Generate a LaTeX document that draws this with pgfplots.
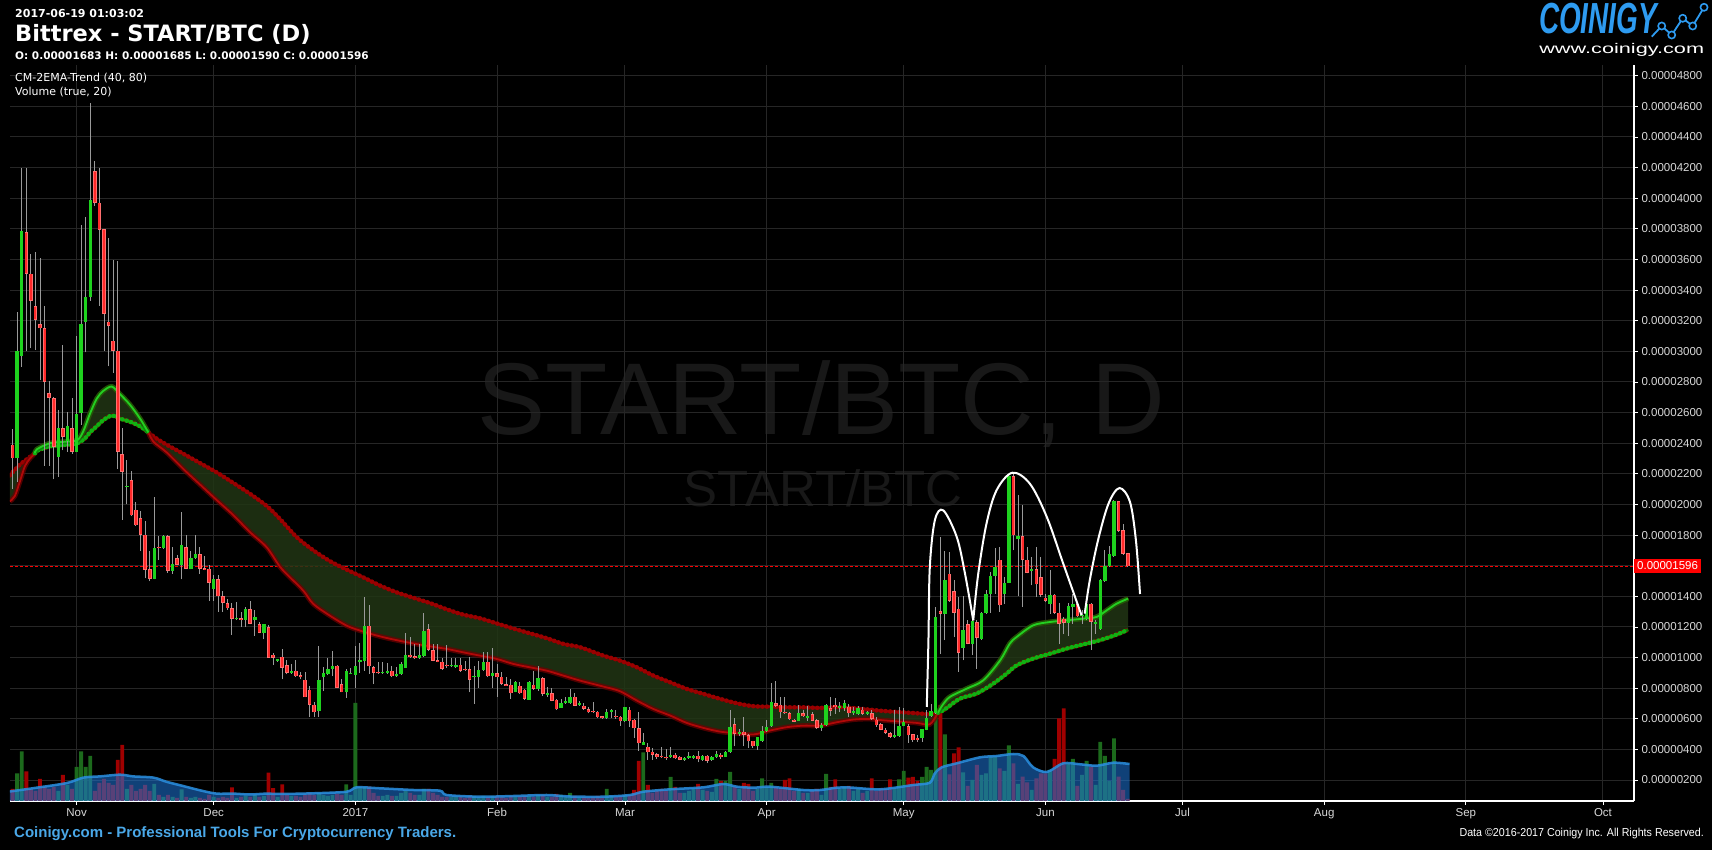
\documentclass[border=0pt]{standalone}
\usepackage{fontspec}
\usepackage{pgfplots}
\usepackage{pgfplotstable}
\pgfplotsset{compat=1.18}
\newfontfamily\dvs{DejaVu Sans}
\newfontfamily\lbs{Liberation Sans}
\newfontfamily\lbsn{Liberation Sans}[FakeStretch=0.93]
\definecolor{gridc}{HTML}{262626}
\definecolor{tickc}{HTML}{D8D8D8}
\definecolor{upc}{HTML}{1ED21E}
\definecolor{dnc}{HTML}{FF2A2A}
\definecolor{dne}{HTML}{FF7070}
\definecolor{wick}{HTML}{9A9A9A}
\definecolor{emafill}{HTML}{213614}
\definecolor{emaRo}{HTML}{6E0000}
\definecolor{emaRi}{HTML}{B00808}
\definecolor{emaRb}{HTML}{9A0000}
\definecolor{emaGo}{HTML}{087A08}
\definecolor{emaGi}{HTML}{22D022}
\definecolor{emaGb}{HTML}{12B012}
\definecolor{volblue}{HTML}{1E78DC}
\definecolor{volline}{HTML}{2A8FE0}
\definecolor{volred}{HTML}{A00000}
\definecolor{volgreen}{HTML}{1C6A1C}
\definecolor{coinblue}{HTML}{4AA8E8}
\definecolor{logoblue}{HTML}{2E9BF0}
\definecolor{wm}{HTML}{181818}

\pgfplotstableread{
d o h l c v
-13 23.0 32.57 21.46 30.04 27.6
-12 29.68 41.95 29.0 37.85 49.5
-4 23.11 26.16 21.8 24.96 10
-2 24.13 26.03 23.44 25.1 16
0 23.44 30.98 23.4 25.89 34
1 25.94 38.23 25.2 31.77 49.5
2 31.94 38.76 29.93 33.56 34
3 33.56 46.2 33.29 39.86 45
11 21.15 22.9 20.0 21.2 12
17 15.14 20.5 15.1 17.18 17
19 17.18 18.0 17.1 17.92 4
21 15.66 17.2 15.47 16.1 4
23 16.02 19.5 15.1 17.34 11.6
25 15.8 16.93 15.75 16.49 3
26 16.49 18.03 16.43 16.74 4
30 14.48 15.42 13.7 15.11 4
35 12.5 13.6 12.45 12.55 3
37 12.45 13.33 11.98 13.16 5
39 12.45 13.13 11.43 12.64 6
41 11.6 12.17 11.18 12.17 5
44 9.78 9.9 9.7 9.89 4
47 8.97 9.58 8.93 9.14 5
53 6.53 10.73 6.1 8.56 8
54 8.71 9.36 7.8 9.0 6
55 8.93 9.95 8.84 9.28 5
56 9.28 10.4 8.77 9.47 6
59 7.73 9.25 7.36 9.14 16.7
60 8.93 9.3 8.9 8.97 6
61 8.88 10.73 7.99 9.47 98
62 9.69 10.95 9.0 9.86 14
63 9.8 13.98 9.14 12.08 14
67 8.99 9.69 8.93 9.04 5
68 8.97 9.62 8.93 9.14 6
70 8.77 9.4 8.75 8.93 5
71 8.93 9.69 8.88 9.58 8
72 9.32 11.6 9.32 10.19 10
75 9.95 10.89 9.9 10.19 6
76 10.12 12.93 10.02 11.76 12
82 9.43 9.95 9.36 9.54 4
83 9.36 9.95 9.32 9.54 4
87 8.71 9.43 6.97 8.77 5
88 8.71 9.8 8.01 9.19 4
89 9.19 10.38 9.14 9.73 5
91 8.82 10.6 8.01 8.99 5
96 7.77 8.49 7.73 8.43 4
99 7.25 8.49 7.23 8.38 5
101 7.95 9.43 7.84 8.64 6
103 7.53 8.06 7.45 7.66 4
106 6.71 7.3 6.69 7.06 6
107 7.01 7.45 6.97 7.14 4
108 7.03 7.95 6.97 7.45 8
110 6.9 7.19 6.86 7.01 3
116 6.05 6.64 5.99 6.47 12
117 6.42 6.64 6.05 6.6 5
120 5.84 6.79 5.77 6.79 6
124 4.31 5.05 4.31 4.47 48.7
130 3.49 4.18 3.44 3.66 24
133 3.31 3.49 3.27 3.44 8
134 3.42 3.86 3.38 3.55 10
135 3.44 3.66 3.38 3.6 12
137 3.33 3.64 3.27 3.6 11
139 3.33 3.58 3.27 3.53 9
140 3.49 3.88 3.42 3.7 22
142 3.49 3.92 3.49 3.86 20
143 3.81 6.6 3.75 5.49 29
145 5.01 5.34 4.9 5.16 12
149 4.2 4.84 3.97 4.84 12
150 4.53 5.51 4.47 5.23 22.7
151 5.18 5.92 5.12 5.49 14
152 5.51 8.32 5.49 7.12 18
158 5.88 6.92 5.84 6.38 12
160 6.08 6.86 5.88 6.12 8
163 5.4 5.71 5.23 5.62 6
164 5.62 6.97 5.55 6.92 27
167 6.73 7.08 6.42 6.75 12
168 6.69 7.25 6.53 7.03 14
170 6.36 6.75 6.27 6.49 10
171 6.32 6.86 6.27 6.69 12
173 6.32 6.53 6.25 6.42 10
179 4.81 6.6 4.77 4.92 12
180 4.86 6.77 4.81 5.55 21.7
181 5.53 6.73 5.51 5.77 30
185 4.75 5.36 4.49 5.32 24
186 5.29 6.55 5.25 6.05 34
187 6.16 6.99 6.12 6.51 31
188 6.38 13.3 6.34 12.65 87
190 12.87 16.94 11.13 15.09 66.7
194 10.65 14.0 9.82 11.82 28.7
196 10.91 12.43 10.15 12.37 21
198 11.19 12.98 11.13 12.91 26
199 12.91 14.43 12.87 14.17 27.7
200 14.17 15.56 12.91 15.35 44.3
201 15.35 17.18 14.17 15.91 44.3
203 14.17 15.26 13.52 14.89 30
204 14.89 22.0 14.89 21.83 55.7
206 17.76 20.64 14.0 17.92 17
209 15.63 16.57 14.72 15.8 11
213 13.52 15.7 12.87 14.1 31
217 12.26 13.56 11.39 13.35 37.7
218 13.3 14.13 12.21 13.48 42
220 12.69 13.08 12.21 12.76 26
221 12.54 13.63 12.43 13.52 40
223 12.21 12.43 11.56 12.26 16
224 11.84 15.15 11.82 15.04 59
225 15.0 17.0 14.93 15.96 45
226 15.96 17.26 15.91 16.74 20
227 16.61 20.27 16.57 20.2 62.7
}\up

\pgfplotstableread{
d o h l c v
-14 23.9 24.9 21.0 23.0 12
-11 37.77 41.95 30.04 35.07 29.7
-10 35.07 36.34 30.2 33.31 12
-9 32.96 36.5 30.1 32.05 10
-8 31.77 36.1 28.1 31.5 22
-7 31.5 32.96 22.54 28.0 14
-6 27.26 28.03 22.54 26.96 12
-5 26.96 27.0 21.63 23.77 14
-3 24.96 30.43 23.53 24.4 26
-1 25.0 26.93 23.3 23.44 12
4 41.75 42.41 39.5 39.69 10
5 39.7 42.0 32.98 37.93 18
6 37.96 38.0 30.04 32.46 22
7 31.94 37.38 29.02 31.66 18
8 30.7 35.95 28.6 30.04 16
9 30.04 35.9 22.3 23.44 41
10 23.3 25.0 18.99 22.12 56
12 21.57 22.15 19.24 19.29 16
13 19.65 20.14 18.58 18.63 10
14 19.1 19.54 16.98 18.03 12
15 18.03 18.9 15.17 15.72 16
16 15.75 16.93 14.98 15.14 10
18 17.2 17.95 16.38 17.15 6
20 17.92 18.03 15.55 15.64 6
22 16.49 16.7 16.02 16.05 3
24 17.2 18.03 15.75 15.8 4
27 16.74 17.2 15.47 15.8 3
28 15.83 16.65 15.7 15.72 2
29 15.8 16.07 13.7 14.9 6
31 15.11 15.42 13.0 13.99 3
32 13.99 14.37 13.0 13.57 4
33 13.57 13.82 13.13 13.22 3
34 13.22 13.55 11.5 12.53 13.7
36 12.56 13.0 11.98 12.47 4
38 13.16 13.66 12.17 12.2 4
40 12.2 12.3 11.57 11.6 4
42 11.98 12.1 9.97 10.0 28.4
43 10.19 10.28 9.5 9.97 12.8
45 10.06 10.55 8.57 9.34 16.6
46 9.48 9.83 8.9 9.01 6
48 9.14 9.84 8.73 8.77 5
49 8.84 9.06 8.58 8.71 4
50 8.56 9.08 7.4 7.4 6
51 7.9 8.17 6.1 6.9 8
52 6.92 7.08 6.1 6.42 6
57 9.47 9.5 8.01 8.01 7
58 8.27 8.6 7.73 7.73 6
64 12.08 13.45 8.93 9.43 14.3
65 9.36 9.47 8.27 9.0 8
66 9.02 9.69 8.93 8.97 5
69 9.14 9.47 8.71 8.77 5
73 10.19 11.32 10.0 10.02 8
74 10.08 10.89 9.9 9.95 6
77 11.87 12.2 10.4 10.49 12
78 10.49 10.89 9.75 9.8 8
79 9.8 10.89 9.69 9.73 6
80 9.73 9.95 9.19 9.25 4
81 9.54 10.82 9.32 9.43 4
84 9.54 9.95 9.08 9.14 4
85 9.23 9.8 9.12 9.16 3
86 9.25 10.02 7.73 8.54 5
90 9.73 10.38 8.71 8.77 4
92 8.99 9.58 7.45 8.71 5
93 8.75 9.04 8.23 8.27 4
94 8.27 8.75 8.17 8.17 3
95 8.23 8.58 7.3 7.66 5
97 8.17 8.38 7.62 7.66 4
98 7.9 7.95 7.25 7.3 5
100 8.23 9.14 7.9 7.95 4
102 8.64 8.71 7.51 7.62 6
104 7.68 8.01 7.14 7.19 4
105 7.25 7.3 6.58 6.62 7
109 7.45 7.69 6.82 6.86 5
111 6.86 7.0 6.6 6.64 4
112 6.64 6.75 6.36 6.42 3
113 6.47 7.12 6.4 6.42 4
114 6.47 6.53 6.05 6.1 5
115 6.16 6.2 6.0 6.05 3
118 6.21 6.58 5.99 6.1 4
119 6.14 6.21 5.55 5.84 5
121 6.6 6.75 5.45 5.84 6
122 5.95 5.99 4.73 5.38 11
123 5.4 6.47 3.92 4.4 40
125 4.18 4.42 3.33 3.81 16
126 3.86 4.1 3.33 3.66 8
127 3.7 3.75 3.38 3.49 10
128 3.53 4.18 3.44 3.49 12
129 3.53 4.03 3.33 3.42 10
131 3.66 3.79 3.38 3.42 14
132 3.53 3.6 3.29 3.31 8
136 3.6 3.92 3.16 3.36 17
138 3.6 3.64 3.1 3.27 10
141 3.66 3.75 3.38 3.49 20
144 5.66 6.05 4.2 5.01 14
146 5.16 6.1 4.2 4.97 18
147 4.94 5.01 4.1 4.53 17
148 4.57 4.57 4.1 4.2 10
153 7.03 8.45 6.79 6.86 14
154 6.92 7.45 6.03 6.42 12
155 6.47 7.45 6.32 6.36 21
156 6.38 6.42 5.92 5.97 22.7
157 5.95 5.99 5.77 5.82 10
159 6.38 6.58 6.1 6.16 8
161 6.32 6.42 5.84 5.88 10
162 5.92 5.99 5.34 5.4 12
165 6.69 7.45 6.21 6.53 14
166 6.92 7.34 6.32 6.75 21.7
169 6.79 6.97 6.1 6.36 15
172 6.6 6.75 6.27 6.32 8
174 6.38 6.55 5.95 6.01 22.7
175 5.95 6.12 5.47 5.58 10
176 5.64 5.73 5.25 5.29 12.7
177 5.29 5.42 5.03 5.07 12
178 5.07 5.14 4.77 4.81 21.7
182 5.51 5.68 4.42 4.92 23.3
183 4.99 5.03 4.49 4.6 24
184 4.77 4.92 4.49 4.6 20
189 13.02 17.87 10.25 12.87 96
191 15.48 16.89 13.63 13.69 26.7
192 14.32 15.04 11.34 12.91 47.7
193 13.19 13.95 9.06 10.3 53.7
195 12.17 12.47 10.86 10.91 15
197 12.32 12.43 9.28 11.3 36
202 16.39 17.22 12.98 13.41 32.7
205 21.83 22.0 17.0 17.98 37.7
207 17.92 19.94 13.3 16.39 24.3
208 16.39 17.22 15.5 15.54 18.7
210 15.76 17.22 13.95 14.78 22.7
211 15.26 16.57 13.95 14.1 27.7
212 13.91 14.13 13.63 13.69 27.7
214 14.1 14.17 12.87 12.91 42
215 12.93 13.58 10.86 12.21 82.7
216 12.54 12.65 11.52 12.26 92.7
219 13.48 13.56 12.65 12.69 15
222 13.52 13.56 10.52 12.32 34.3
228 20.2 20.2 18.2 18.26 24.3
229 18.31 18.7 16.72 16.78 11
230 16.83 16.85 15.90 15.96 2
}\down

\pgfplotstableread{
d p
-14.6 20.2
-13.5 20.55
-12.4 21.5
-11.3 22.5
-10.2 23.0
-9.1 23.35
-8.7 23.6
-5.8 24.0
-2.2 24.1
0.2 24.2
1.5 24.8
2.9 25.9
4.4 26.9
5.8 27.4
7.7 27.7
9.5 27.2
11.7 26.5
13.9 25.6
15.7 24.7
16.8 24.1
19.7 23.4
23.4 22.3
27.0 21.3
30.6 20.3
34.3 19.3
37.9 18.2
41.6 17.2
44.5 15.93
46.7 15.24
49.6 14.37
51.8 13.5
55.4 12.74
59.1 12.08
62.0 11.76
64.9 11.5
67.8 11.28
72.2 11.0
77.3 10.73
81.0 10.56
84.6 10.34
88.3 10.12
91.9 9.91
95.6 9.58
99.2 9.36
102.9 9.14
106.5 8.82
110.2 8.49
115.3 8.1
118.9 7.8
122.6 7.19
126.2 6.64
129.9 6.21
133.5 5.73
137.2 5.4
140.8 5.16
144.5 5.05
148.1 4.97
151.7 5.23
155.4 5.45
159.0 5.55
162.7 5.55
166.3 5.77
170.0 5.95
173.6 5.99
176.5 5.9
183.8 5.73
186.7 5.64
188.5 6.4
189.5 6.9
191.1 7.43
194.8 7.97
198.4 8.51
202.1 9.82
204.2 10.91
205.7 11.34
209.3 12.1
213.0 12.32
216.6 12.43
220.3 12.54
223.2 12.65
225.4 13.08
227.6 13.52
230.1 13.85
}\fast

\pgfplotstableread{
d p
-14.6 21.9
-12.4 22.6
-10.2 23.1
-9.1 23.35
-8.7 23.5
-5.8 23.8
-2.2 23.9
0.2 24.0
1.8 24.3
2.9 24.7
4.4 25.1
5.8 25.5
7.7 25.8
9.5 25.6
11.7 25.4
13.9 25.1
15.7 24.7
17.5 24.3
19.7 23.9
23.4 23.3
27.0 22.7
30.6 22.1
34.3 21.4
37.9 20.7
41.6 19.9
44.5 19.05
48.2 17.85
51.8 17.0
55.4 16.3
59.1 15.74
62.7 15.24
66.4 14.7
70.0 14.26
73.7 13.9
77.3 13.56
81.0 13.15
84.6 12.8
88.3 12.56
91.9 12.23
95.6 11.89
99.2 11.58
102.9 11.26
106.5 10.89
110.2 10.67
115.3 10.12
118.9 9.8
122.6 9.36
126.2 8.82
129.9 8.38
133.5 7.95
137.2 7.62
140.8 7.3
144.5 7.01
148.1 6.82
151.7 6.79
155.4 6.75
159.0 6.75
162.7 6.71
166.3 6.75
170.0 6.7
176.5 6.51
183.8 6.36
186.7 6.3
188.5 6.4
190.0 6.62
193.3 7.32
196.9 7.64
200.6 8.3
203.5 8.95
205.7 9.49
209.3 9.93
213.0 10.25
216.6 10.58
220.3 10.86
223.9 11.13
227.6 11.5
230.1 11.82
}\slow

\pgfplotstableread{
d h
-14.6 9.5
-9.5 12.8
-2.2 17.9
1.5 23.4
5.1 24.6
9.5 26.3
12.4 24.6
16.8 23.4
19.7 19.2
23.4 14.9
27.0 10.7
30.6 7.4
34.3 7.4
37.9 6.5
41.6 7.4
44.5 7
51.8 7.7
59.1 9.3
61.3 13.7
66.4 12.7
73.7 11
79.5 10.3
81 6
88.3 4.3
95.6 5
102.9 6
108 4.5
115.3 4.3
121.1 6
124 9.3
129.9 11.7
137.2 13.7
141.5 17
144.5 14.3
148.1 13.3
151.7 14.3
159 11
162.7 11
166.3 13.3
169.2 13.5
175.8 11.7
183.1 16
186.7 18.3
187.8 27.7
189.3 33.7
192.6 37.7
197.7 43.7
201.3 45
205 47
207.2 45
209.3 33.7
212.3 29
215.9 37.7
219.6 36.7
223.2 35.3
226.9 38.3
230.4 37
}\vma

\pgfplotstablesort[sort key=d, sort cmp=float >]{\slowrev}{\slow}
\pgfplotstablevertcat{\band}{\fast}
\pgfplotstablevertcat{\band}{\slowrev}

\pgfplotsset{
  base/.style={at={(10pt,49pt)}, anchor=south west, scale only axis,
    width=1624pt, height=736pt, xmin=-14.57, xmax=340.8},
  beads/.style={line width=4.6pt, line cap=round, dash pattern=on 0pt off 4.57pt, smooth},
}

\begin{document}
\begin{tikzpicture}[x=1pt,y=1pt]
\useasboundingbox (0,0) rectangle (1712,850);
\fill[black] (0,0) rectangle (1712,850);

% watermark
\node[text=wm, font=\lbs\fontsize{102}{106}\selectfont, inner sep=0] at (821,446) {START/BTC, D};
\node[text=wm, font=\lbs\fontsize{51}{54}\selectfont, inner sep=0] at (823,362) {START/BTC};

% grid / ticks axis
\begin{axis}[base, ymin=0.63, ymax=48.70,
  axis x line*=bottom, axis y line*=right,
  axis line style={white, line width=1.3pt},
  tick align=outside, major tick length=4pt,
  tick style={white, line width=0.8pt},
  xtick={0,30,61,92,120,151,181,212,242,273,304,334},
  xticklabels={Nov,Dec,2017,Feb,Mar,Apr,May,Jun,Jul,Aug,Sep,Oct},
  ytick={2,4,...,48},
  yticklabels={0.00000200,0.00000400,0.00000600,0.00000800,0.00001000,0.00001200,0.00001400,,0.00001800,0.00002000,0.00002200,0.00002400,0.00002600,0.00002800,0.00003000,0.00003200,0.00003400,0.00003600,0.00003800,0.00004000,0.00004200,0.00004400,0.00004600,0.00004800},
  grid=major, grid style={gridc, line width=1pt},
  xticklabel style={font=\lbs\fontsize{11.5}{13}\selectfont, text=tickc},
  yticklabel style={font=\lbs\fontsize{11.5}{13}\selectfont, text=tickc, anchor=west},
]
\addplot[red, line width=1pt, dash pattern=on 3pt off 2pt] coordinates {(-14.57,15.96) (340.8,15.96)};
\end{axis}

% volume axis
\begin{axis}[base, ymin=0, ymax=736, hide axis]
\addplot[ybar, bar width=3.9pt, bar shift=0pt, fill=volred, draw=none] table[x=d,y=v] {\down};
\addplot[ybar, bar width=3.9pt, bar shift=0pt, fill=volgreen, draw=none] table[x=d,y=v] {\up};
\addplot[fill=volblue, fill opacity=0.55, draw=none] table[x=d,y=h] {\vma} \closedcycle;
\addplot[volline, line width=2.5pt, opacity=0.85, smooth] table[x=d,y=h] {\vma};
\end{axis}

% price axis
\begin{axis}[base, ymin=0.63, ymax=48.70, hide axis]
\addplot[fill=emafill, fill opacity=0.85, draw=none] table[x=d,y=p] {\band};
% red EMA
\addplot[emaRo, line width=3pt, smooth] table[x=d,y=p] {\slow};
\addplot[emaRb, beads] table[x=d,y=p] {\slow};
\addplot[emaRo, line width=5pt, smooth, opacity=0.7] table[x=d,y=p] {\fast};
\addplot[emaRi, line width=1.8pt, smooth] table[x=d,y=p] {\fast};
% green EMA segments
\addplot[emaGo, line width=3pt, smooth, restrict x to domain=-9.1:15.7] table[x=d,y=p] {\slow};
\addplot[emaGb, beads, restrict x to domain=-9.1:15.7] table[x=d,y=p] {\slow};
\addplot[emaGo, line width=5pt, smooth, opacity=0.7, restrict x to domain=-9.1:15.7] table[x=d,y=p] {\fast};
\addplot[emaGi, line width=1.8pt, smooth, restrict x to domain=-9.1:15.7] table[x=d,y=p] {\fast};
\addplot[emaGo, line width=3pt, smooth, restrict x to domain=188.5:231] table[x=d,y=p] {\slow};
\addplot[emaGb, beads, restrict x to domain=188.5:231] table[x=d,y=p] {\slow};
\addplot[emaGo, line width=5pt, smooth, opacity=0.7, restrict x to domain=188.5:231] table[x=d,y=p] {\fast};
\addplot[emaGi, line width=1.8pt, smooth, restrict x to domain=188.5:231] table[x=d,y=p] {\fast};
% wicks
\addplot[wick, line width=1pt, -, quiver={u=0, v={\thisrow{h}-\thisrow{l}}}] table[x=d, y=l] {\up};
\addplot[wick, line width=1pt, -, quiver={u=0, v={\thisrow{h}-\thisrow{l}}}] table[x=d, y=l] {\down};
% bodies
\addplot[upc, line width=3.4pt, -, quiver={u=0, v={max(\thisrow{c}-\thisrow{o},0.08)}}] table[x=d, y=o] {\up};
\addplot[dne, line width=3.6pt, -, quiver={u=0, v={max(\thisrow{o}-\thisrow{c},0.08)}}] table[x=d, y=c] {\down};
\addplot[dnc, line width=2pt, -, quiver={u=0, v={max(\thisrow{o}-\thisrow{c}-0.09,0.02)}}] table[x=d, y expr={\thisrow{c}+0.045}] {\down};
% annotation arcs
\addplot[white, line width=2pt, smooth, tension=0.55] coordinates {(186.03,6.77) (186.4,11.13) (186.7,15.91) (187.8,18.96) (189.65,19.61) (192.6,17.87) (194.4,15.48) (196.2,12.43)};
\addplot[white, line width=2pt, smooth, tension=0.55] coordinates {(196.2,12.43) (197.3,15.48) (199.1,18.74) (201.3,20.92) (204.75,22.07) (208.6,21.35) (212.3,19.18) (215.9,16.13) (219.9,12.76)};
\addplot[white, line width=2pt, smooth, tension=0.55] coordinates {(220.6,12.87) (221.7,15.04) (223.5,17.65) (225.8,20.05) (228.2,21.07) (230.5,20.16) (231.8,17.65) (232.7,14.15)};
\end{axis}

% price label
\node[fill=red, text=white, font=\lbs\fontsize{11.5}{13}\selectfont, inner xsep=3pt, inner ysep=3pt, anchor=west] at (1634,284) {0.00001596};

% header
\node[anchor=west, inner sep=0, text=white, font=\dvs\bfseries\fontsize{11}{13}\selectfont] at (15,836) {2017-06-19 01:03:02};
\node[anchor=west, inner sep=0, text=white, font=\dvs\bfseries\fontsize{22.5}{26}\selectfont] at (15,816) {Bittrex - START/BTC (D)};
\node[anchor=west, inner sep=0, text=white, font=\dvs\bfseries\fontsize{10.5}{13}\selectfont] at (15,794) {O: 0.00001683 H: 0.00001685 L: 0.00001590 C: 0.00001596};
\node[anchor=west, inner sep=0, text=white, font=\dvs\fontsize{11}{13}\selectfont] at (15,772) {CM-2EMA-Trend (40, 80)};
\node[anchor=west, inner sep=0, text=white, font=\dvs\fontsize{11}{13}\selectfont] at (15,758) {Volume (true, 20)};

% logo
\node[text=logoblue, inner sep=0, text depth=0pt, anchor=base, font=\lbs\bfseries\itshape\fontsize{30}{32}\selectfont] at (1598,816) {\scalebox{0.93}[1.45]{COINIGY}};
\draw[logoblue, line width=1.8pt] (1651.7,813.3) -- (1661.7,824) -- (1671.7,815) -- (1682.7,831.7) -- (1692.7,824) -- (1704,842.7);
\foreach \x/\y in {1661.7/824, 1671.7/815, 1682.7/831.7, 1692.7/824, 1704/842.7}
  \draw[logoblue, line width=1.6pt, fill=black] (\x,\y) circle (3.6);
\node[text=white, inner sep=0, anchor=base, font=\lbs\fontsize{14}{16}\selectfont] at (1621.7,796) {\scalebox{1.55}[1]{www.coinigy.com}};

% footer
\node[anchor=west, inner sep=0, text=coinblue, font=\lbs\bfseries\fontsize{15}{17}\selectfont] at (14,16) {Coinigy.com - Professional Tools For Cryptocurrency Traders.};
\node[anchor=east, inner sep=0, text=white, font=\lbsn\fontsize{11.5}{13}\selectfont] at (1704,16) {Data \textcopyright 2016-2017 Coinigy Inc. All Rights Reserved.};
\end{tikzpicture}
\end{document}
